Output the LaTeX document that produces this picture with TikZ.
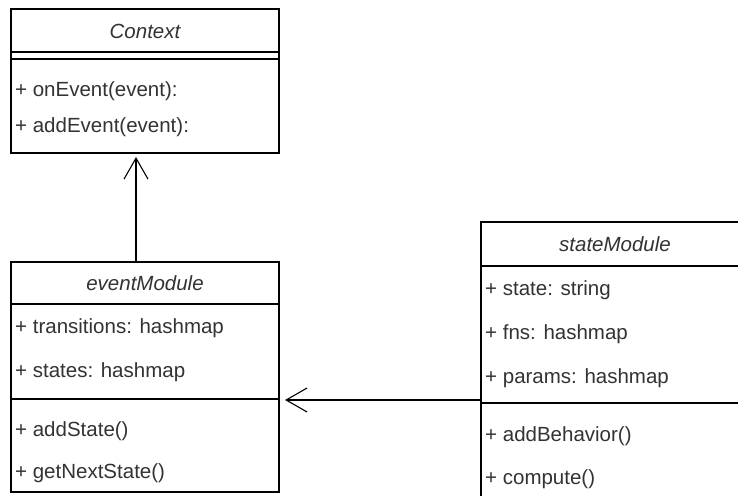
\documentclass[tikz,border=0pt]{standalone}
\usepackage{fontspec}
\setmainfont{Liberation Sans}
\usetikzlibrary{arrows.meta}
\definecolor{ink}{HTML}{333333}
\tikzset{
  classbox/.style={draw=black, line width=1.1pt, inner sep=0pt, outer sep=0pt,
    anchor=north west, fill=white},
  divider/.style={draw=black, line width=1.1pt},
  classname/.style={anchor=base, inner sep=0pt, text=ink,
    font=\fontsize{20.5pt}{24pt}\selectfont\itshape},
  member/.style={anchor=base west, inner sep=0pt, text=ink,
    font=\fontsize{20.5pt}{24pt}\selectfont},
  openarrow/.style={draw=black, line width=1.1pt,
    -{Straight Barb[length=21pt, width=24pt, line width=1.1pt]}}
}
\begin{document}
\begin{tikzpicture}[x=1pt, y=-1pt]
\useasboundingbox (0,0) rectangle (738,495);
\clip (0,0) rectangle (738,495);

% --- Context class ---
\node[classbox, minimum width=268pt, minimum height=144pt] (context) at (11,9) {};
\draw[divider] (11,52) -- (279,52);
\draw[divider] (11,59) -- (279,59);
\node[classname] (contextName) at (145,39) {Context};
\node[member] (onEvent) at (15,96) {+ onEvent(event):};
\node[member] (addEvent) at (15,132) {+ addEvent(event):};

% --- eventModule class ---
\node[classbox, minimum width=268pt, minimum height=230pt] (eventModule) at (11,262) {};
\draw[divider] (11,304) -- (279,304);
\coordinate (evDiv) at (279,399);
\draw[divider] (11,399) -- (evDiv);
\node[classname] (eventName) at (145,290) {eventModule};
\node[member] (transitions) at (15,333) {+ transitions: hashmap};
\node[member] (states) at (15,377) {+ states: hashmap};
\node[member] (addState) at (15,436) {+ addState()};
\node[member] (getNextState) at (15,478) {+ getNextState()};

% --- stateModule class (runs past the page edge) ---
\node[classbox, minimum width=268pt, minimum height=300pt] (stateModule) at (481,222) {};
\draw[divider] (481,266) -- (749,266);
\draw[divider] (481,403) -- (749,403);
\node[classname] (stateName) at (615,251) {stateModule};
\node[member] (state) at (485,295) {+ state: string};
\node[member] (fns) at (485,339) {+ fns: hashmap};
\node[member] (params) at (485,383) {+ params: hashmap};
\node[member] (addBehavior) at (485,441) {+ addBehavior()};
\node[member] (compute) at (485,484) {+ compute()};

% --- associations ---
\draw[openarrow, shorten >=4pt] ([xshift=-9pt]eventModule.north) -- ([xshift=-9pt]context.south);
\draw[openarrow, shorten >=6pt] ([yshift=-1pt]stateModule.west |- evDiv) -- ([yshift=-1pt]evDiv);
\end{tikzpicture}
\end{document}
